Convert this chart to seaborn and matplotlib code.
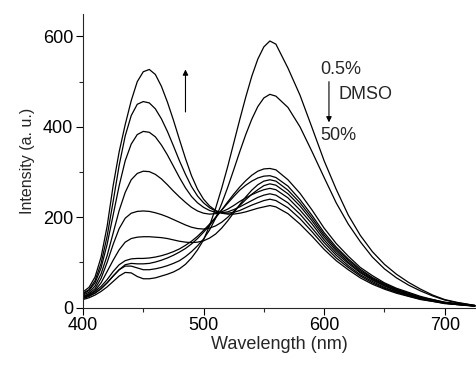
import matplotlib
matplotlib.use("Agg")
import matplotlib.pyplot as plt
from matplotlib.ticker import AutoMinorLocator, MultipleLocator
import numpy as np
import pandas as pd
import seaborn as sns

# Emission wavelengths (nm)
wavelength = [400, 405, 410, 415, 420, 425, 430, 435, 440, 445, 450, 455, 460, 465, 470,
              475, 480, 485, 490, 495, 500, 505, 510, 515, 520, 525, 530, 535, 540, 545,
              550, 555, 560, 570, 580, 590, 600, 610, 620, 630, 640, 650, 660, 670, 680,
              690, 700, 710, 725]

# Fluorescence intensity (a. u.) for increasing DMSO content, 0.5% -> 50%
s01 = [18, 22, 28, 36, 46, 58, 70, 78, 77, 69, 64, 64, 66, 70, 74,
       79, 86, 96, 110, 128, 150, 182, 220, 264, 312, 364, 416, 466, 512, 550,
       577, 590, 583, 530, 470, 398, 325, 262, 205, 160, 124, 96, 74, 56, 41,
       28, 18, 12, 5]
s02 = [20, 25, 32, 42, 55, 70, 84, 92, 92, 88, 84, 84, 86, 89, 93,
       98, 104, 113, 124, 137, 152, 172, 198, 230, 266, 305, 345, 383, 417, 445,
       464, 472, 468, 443, 400, 345, 288, 232, 185, 146, 112, 86, 66, 50, 37,
       26, 17, 11, 5]
s03 = [22, 27, 33, 42, 55, 70, 84, 95, 98, 97, 97, 98, 101, 105, 110,
       116, 123, 131, 141, 153, 167, 182, 199, 216, 234, 251, 267, 281, 293, 302,
       307, 308, 305, 283, 253, 216, 176, 142, 114, 89, 71, 55, 43, 34, 25,
       18, 12, 9, 5]
s04 = [24, 29, 36, 47, 62, 80, 95, 104, 108, 109, 109, 110, 112, 115, 119,
       124, 130, 138, 147, 158, 171, 185, 200, 216, 231, 246, 260, 271, 280, 287,
       291, 292, 288, 269, 239, 204, 166, 134, 108, 85, 67, 53, 41, 32, 23,
       18, 12, 9, 4]
s05 = [22, 28, 38, 55, 80, 105, 128, 145, 153, 156, 157, 157, 156, 155, 153,
       150, 147, 145, 144, 145, 148, 154, 163, 176, 192, 210, 228, 245, 260, 272,
       280, 283, 280, 260, 232, 198, 161, 130, 105, 82, 65, 51, 40, 31, 23,
       17, 11, 8, 4]
s06 = [25, 31, 42, 65, 100, 140, 175, 198, 209, 213, 214, 213, 210, 206, 201,
       195, 189, 183, 178, 175, 174, 176, 181, 189, 200, 213, 226, 239, 251, 261,
       270, 274, 271, 252, 225, 192, 156, 126, 101, 79, 63, 49, 38, 30, 22,
       16, 11, 8, 4]
s07 = [28, 34, 48, 75, 115, 165, 215, 255, 283, 297, 302, 301, 295, 285, 272,
       258, 245, 233, 222, 214, 209, 207, 208, 212, 218, 226, 235, 243, 250, 256,
       261, 264, 261, 243, 216, 185, 150, 121, 98, 77, 61, 48, 37, 29, 21,
       16, 11, 8, 4]
s08 = [30, 38, 55, 88, 140, 205, 270, 325, 362, 383, 390, 388, 378, 360, 338,
       313, 288, 265, 246, 232, 222, 215, 211, 210, 212, 217, 223, 230, 237, 244,
       249, 252, 249, 232, 207, 176, 144, 116, 93, 73, 58, 45, 35, 28, 20,
       15, 10, 7, 4]
s09 = [32, 40, 60, 98, 158, 235, 315, 380, 425, 450, 456, 453, 440, 418, 390,
       358, 325, 295, 268, 247, 232, 221, 214, 210, 209, 211, 215, 221, 227, 232,
       237, 240, 237, 221, 197, 168, 137, 110, 89, 70, 55, 43, 34, 26, 19,
       14, 10, 7, 4]
s10 = [35, 45, 68, 112, 180, 270, 345, 405, 458, 500, 522, 527, 516, 490, 455,
       415, 372, 330, 292, 262, 240, 225, 215, 209, 207, 207, 209, 212, 216, 220,
       223, 226, 223, 208, 185, 158, 129, 104, 84, 66, 52, 41, 32, 25, 18,
       14, 9, 7, 3]

series = [s01, s02, s03, s04, s05, s06, s07, s08, s09, s10]

df = pd.concat(
    [pd.DataFrame({"Wavelength": wavelength, "Intensity": s, "run": i})
     for i, s in enumerate(series)],
    ignore_index=True,
)

sns.set_style("ticks")
plt.rcParams["font.family"] = ["Liberation Sans", "DejaVu Sans"]
plt.rcParams["axes.linewidth"] = 0.8

fig = plt.figure(figsize=(4.77, 3.65), dpi=100)
ax = fig.add_axes([0.174, 0.157, 0.824, 0.805])

sns.lineplot(data=df, x="Wavelength", y="Intensity", hue="run",
             palette=["black"] * len(series), legend=False,
             linewidth=0.9, ax=ax)

ax.set_xlim(400, 726)
ax.set_ylim(0, 650)
ax.xaxis.set_major_locator(MultipleLocator(100))
ax.yaxis.set_major_locator(MultipleLocator(200))
ax.xaxis.set_minor_locator(AutoMinorLocator(2))
ax.yaxis.set_minor_locator(AutoMinorLocator(2))
ax.tick_params(which="major", direction="out", length=5, width=0.8,
               labelsize=13, pad=2, colors="black")
ax.tick_params(which="minor", direction="out", length=3, width=0.8)
sns.despine(ax=ax)

ax.set_xlabel("Wavelength (nm)", fontsize=13, labelpad=1)
ax.set_ylabel("Intensity (a. u.)", fontsize=11.5, labelpad=6)

# Direction of change with DMSO content
ax.annotate("", xy=(485, 527), xytext=(485, 433),
            arrowprops=dict(arrowstyle="-|>", color="black", lw=0.8,
                            mutation_scale=8, shrinkA=0, shrinkB=0))
ax.annotate("", xy=(604, 410), xytext=(604, 500),
            arrowprops=dict(arrowstyle="-|>", color="black", lw=0.8,
                            mutation_scale=8, shrinkA=0, shrinkB=0))
ax.text(597, 527, "0.5%", fontsize=13, va="center", ha="left")
ax.text(612, 471, "DMSO", fontsize=13, va="center", ha="left")
ax.text(597, 382, "50%", fontsize=13, va="center", ha="left")

fig.savefig("out.png", dpi=100)
